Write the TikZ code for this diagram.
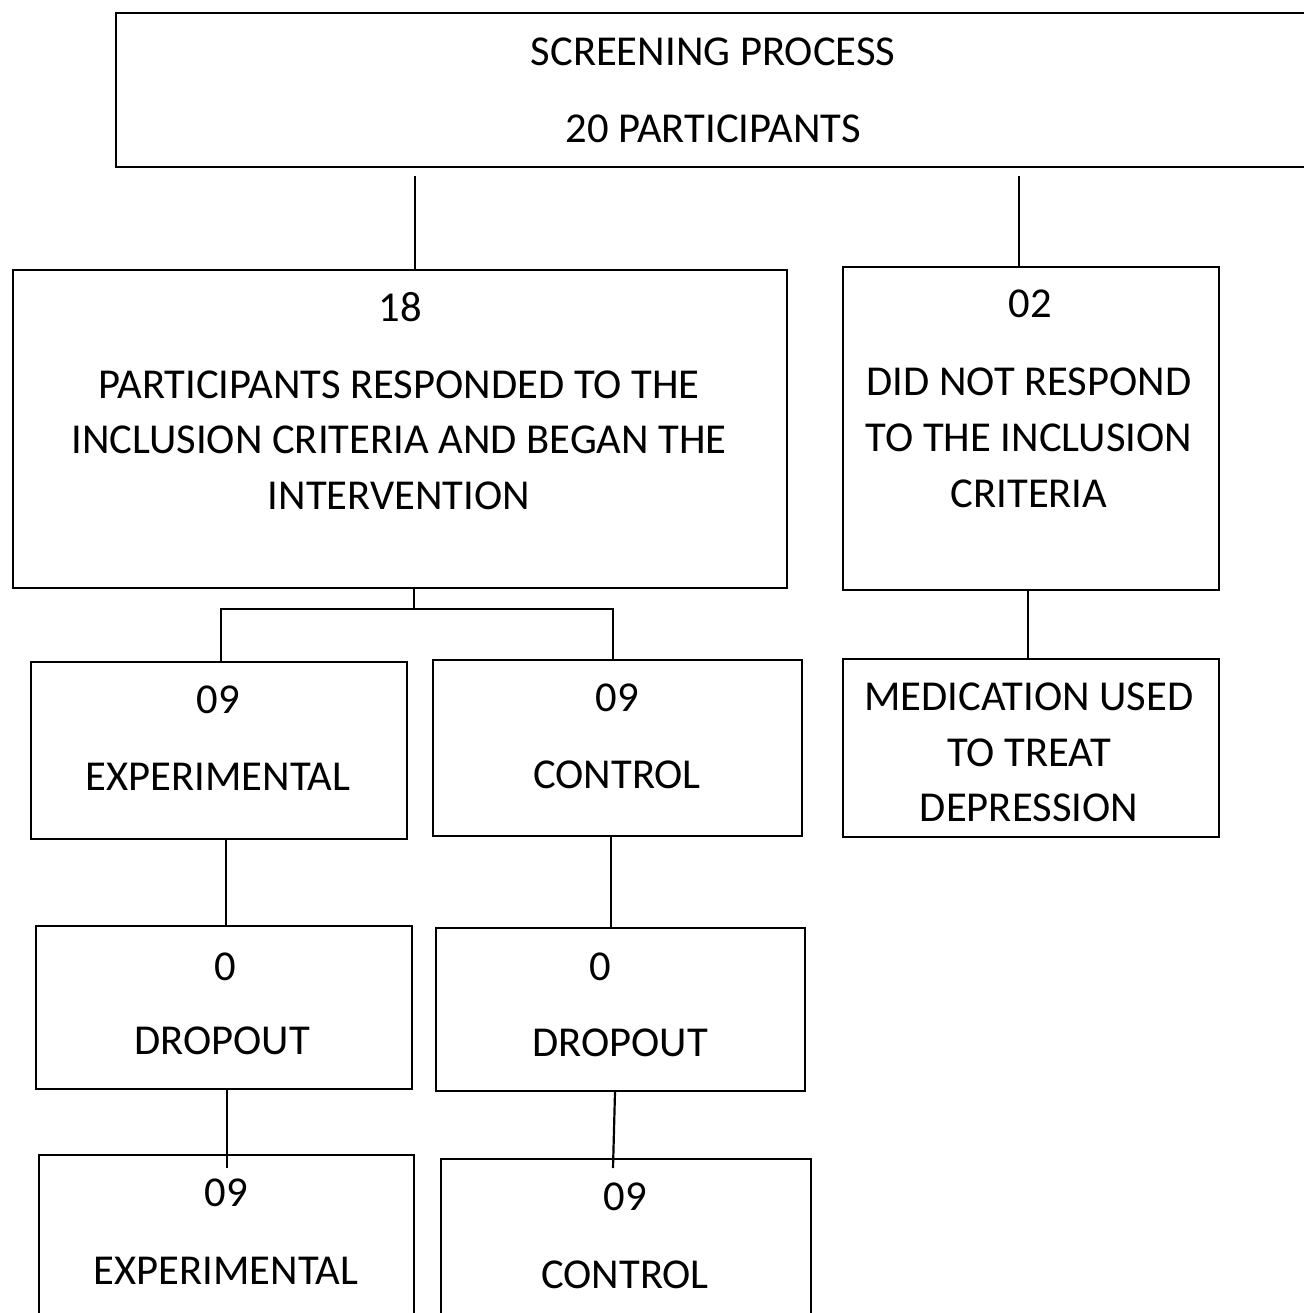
\documentclass[tikz,border=0pt]{standalone}
\usepackage{fontspec}
\setmainfont{Carlito}
\begin{document}
\begin{tikzpicture}[x=0.5pt,y=-0.5pt,
  box/.style={draw=black,line width=1.1pt,inner sep=0pt,anchor=north west},
  txt/.style={anchor=base,inner sep=0pt,font=\fontsize{21.3}{25}\selectfont},
  conn/.style={draw=black,line width=1.1pt}]
\useasboundingbox (0,0) rectangle (1303,1313);
% boxes
\node[box,minimum width=597.5pt,minimum height=77pt] (top) at (115,12) {};
\node[box,minimum width=387pt,minimum height=159pt] (b18) at (12,269) {};
\node[box,minimum width=188pt,minimum height=161.5pt] (b02) at (842,266) {};
\node[box,minimum width=188pt,minimum height=88.5pt] (exp) at (30,661) {};
\node[box,minimum width=184.5pt,minimum height=88pt] (ctrl) at (432,659) {};
\node[box,minimum width=188pt,minimum height=89pt] (med) at (842,658) {};
\node[box,minimum width=188pt,minimum height=81.5pt] (dA) at (35,925) {};
\node[box,minimum width=184.5pt,minimum height=81.5pt] (dB) at (435,927) {};
\node[box,minimum width=187.5pt,minimum height=100pt] (expB) at (38,1154) {};
\node[box,minimum width=185pt,minimum height=100pt] (ctrlB) at (440,1158) {};
% texts
\node[txt] (t1) at (713,65) {SCREENING PROCESS};
\node[txt] (t2) at (713,142) {20 PARTICIPANTS};
\node[txt] (t3) at (400,321) {18};
\node[txt] (t4) at (399,398) {PARTICIPANTS RESPONDED TO THE};
\node[txt] (t5) at (399,453) {INCLUSION CRITERIA AND BEGAN THE};
\node[txt] (t6) at (399,509) {INTERVENTION};
\node[txt] (t7) at (1030,317) {02};
\node[txt] (t8) at (1029,395) {DID NOT RESPOND};
\node[txt] (t9) at (1029,451) {TO THE INCLUSION};
\node[txt] (t10) at (1029,507) {CRITERIA};
\node[txt] (t11) at (218,713) {09};
\node[txt] (t12) at (218,790) {EXPERIMENTAL};
\node[txt] (t13) at (617,711) {09};
\node[txt] (t14) at (617,788) {CONTROL};
\node[txt] (t15) at (1029,710) {MEDICATION USED};
\node[txt] (t16) at (1029,766) {TO TREAT};
\node[txt] (t17) at (1029,821) {DEPRESSION};
\node[txt] (t18) at (225,980) {0};
\node[txt] (t19) at (222,1054) {DROPOUT};
\node[txt] (t20) at (600,980) {0};
\node[txt] (t21) at (620,1056) {DROPOUT};
\node[txt] (t22) at (226,1206) {09};
\node[txt] (t23) at (226,1284) {EXPERIMENTAL};
\node[txt] (t24) at (625,1210) {09};
\node[txt] (t25) at (625,1288) {CONTROL};
% connector coordinates
\coordinate (s1) at (415,176);
\coordinate (s2) at (1019,176);
\coordinate (j) at (414,609);
\coordinate (jl) at (221,609);
\coordinate (jr) at (613,609);
\coordinate (e1) at (227,1168);
\coordinate (e2) at (613,1168);
% connectors
\draw[conn] (s1) -- (s1 |- b18.north);
\draw[conn] (s2) -- (s2 |- b02.north);
\draw[conn] (j |- b18.south) -- (j);
\draw[conn] (jl |- exp.north) -- (jl) -- (jr) -- (jr |- ctrl.north);
\draw[conn] (1028,0 |- b02.south) -- (1028,0 |- med.north);
\draw[conn] (226,0 |- exp.south) -- (226,0 |- dA.north);
\draw[conn] (611,0 |- ctrl.south) -- (611,0 |- dB.north);
\draw[conn] (e1 |- dA.south) -- (e1);
\draw[conn] (615,0 |- dB.south) -- (e2);
\end{tikzpicture}
\end{document}
